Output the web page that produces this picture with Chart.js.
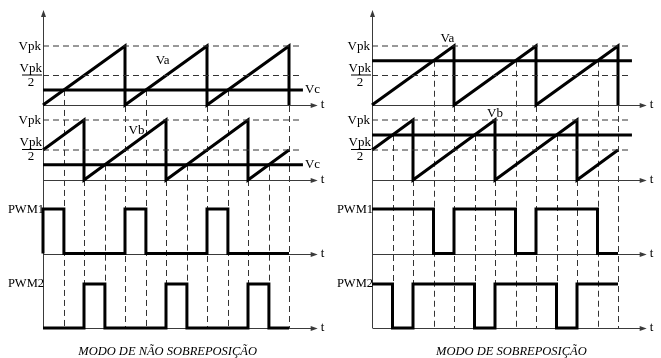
<!DOCTYPE html>
<html>
<head>
<meta charset="utf-8">
<title>PWM intercalado - modos</title>
<script src="https://cdn.jsdelivr.net/npm/chart.js@4.4.1/dist/chart.umd.min.js"></script>
<style>
    html, body { margin: 0; padding: 0; background: #fff; }
    canvas { display: block; }
</style>
</head>
<body>
<canvas id="pwmChart" width="661" height="358"></canvas>
<script>
/* ============================================
   PWM CARRIERS — overlap / non-overlap modes
   time in carrier periods, levels in Vpk units
   ============================================ */

// carriers (same on both sides)
const vaTimes  = [0, 1, 1, 2, 2, 3, 3];
const vaLevels = [0, 1, 0, 1, 0, 1, 0];
const vbTimes  = [0, 0.5, 0.5, 1.5, 1.5, 2.5, 2.5, 3];
const vbLevels = [0.5, 1, 0, 1, 0, 1, 0, 0.5];

// control voltage
const vcLeft  = 0.255;
const vcRight = 0.75;

// reference levels (Vpk, Vpk/2)
const refLevels = [1, 0.5];

// PWM outputs - left (non overlap)
const pwm1LeftTimes  = [0, 0, 0.255, 0.255, 1, 1, 1.255, 1.255, 2, 2, 2.255, 2.255, 3];
const pwm1LeftLevels = [0, 1, 1, 0, 0, 1, 1, 0, 0, 1, 1, 0, 0];
const pwm2LeftTimes  = [0, 0.5, 0.5, 0.755, 0.755, 1.5, 1.5, 1.755, 1.755, 2.5, 2.5, 2.755, 2.755, 3];
const pwm2LeftLevels = [0, 0, 1, 1, 0, 0, 1, 1, 0, 0, 1, 1, 0, 0];

// PWM outputs - right (overlap)
const pwm1RightTimes  = [0, 0.75, 0.75, 1, 1, 1.75, 1.75, 2, 2, 2.75, 2.75, 3];
const pwm1RightLevels = [1, 1, 0, 0, 1, 1, 0, 0, 1, 1, 0, 0];
const pwm2RightTimes  = [0, 0.25, 0.25, 0.5, 0.5, 1.25, 1.25, 1.5, 1.5, 2.25, 2.25, 2.5, 2.5, 3];
const pwm2RightLevels = [1, 1, 0, 0, 1, 1, 0, 0, 1, 1, 0, 0, 1, 1];

// dashed drop lines: time, carrier it starts on, level it starts at
const guideLeftTimes   = [0.255, 0.5, 0.755, 1, 1.255, 1.5, 1.755, 2, 2.255, 2.5, 2.755, 3];
const guideLeftAxes    = ['va', 'vb', 'vb', 'va', 'va', 'vb', 'vb', 'va', 'va', 'vb', 'vb', 'va'];
const guideLeftLevels  = [vcLeft, 1, vcLeft, 1, vcLeft, 1, vcLeft, 1, vcLeft, 1, vcLeft, 1];
const guideRightTimes  = [0.25, 0.5, 0.75, 1, 1.25, 1.5, 1.75, 2, 2.25, 2.5, 2.75, 3];
const guideRightAxes   = ['vb', 'vb', 'va', 'va', 'vb', 'vb', 'va', 'va', 'vb', 'vb', 'va', 'va'];
const guideRightLevels = [vcRight, 1, vcRight, 1, vcRight, 1, vcRight, 1, vcRight, 1, vcRight, 1];

const REF_END = 3.17;   // dashed refs and Vc stop here
const AXIS_END = 3.35;  // t arrow tips
const Y_TOP = 1.61;     // y arrow tip (va units)

const W = 661, H = 358;
const INK = '#000';
const AXIS_INK = '#3a3a3a';
const SERIF = '"Liberation Serif", "Times New Roman", serif';

// a y scale where level 0 sits at basePx and level 1 at topPx
function levelScale(basePx, topPx) {
    const u = basePx - topPx;
    return { type: 'linear', display: false, min: -(H - basePx) / u, max: basePx / u };
}
function timeScale(originPx, unitPx) {
    return { type: 'linear', display: false, min: -originPx / unitPx, max: (W - originPx) / unitPx };
}

function trace(xID, yID, times, levels, extra) {
    return Object.assign({
        data: times.map((t, i) => ({ x: t, y: levels[i] })),
        xAxisID: xID,
        yAxisID: yID,
        showLine: true,
        pointRadius: 0,
        borderColor: INK,
        borderWidth: 3,
        borderJoinStyle: 'miter',
        borderCapStyle: 'butt',
        tension: 0,
        fill: false,
        clip: false
    }, extra || {});
}

function buildDatasets(xID, vc, pwm1T, pwm1V, pwm2T, pwm2V) {
    const sets = [];
    // dashed Vpk and Vpk/2
    ['va', 'vb'].forEach(y => {
        refLevels.forEach(lv => {
            sets.push(trace(xID, y, [0, REF_END], [lv, lv], {
                borderWidth: 1, borderColor: '#333', borderDash: [6, 4]
            }));
        });
    });
    // Vc
    sets.push(trace(xID, 'va', [0, REF_END], [vc, vc]));
    sets.push(trace(xID, 'vb', [0, REF_END], [vc, vc]));
    // carriers
    sets.push(trace(xID, 'va', vaTimes, vaLevels));
    sets.push(trace(xID, 'vb', vbTimes, vbLevels));
    // pwm
    sets.push(trace(xID, 'p1', pwm1T, pwm1V));
    sets.push(trace(xID, 'p2', pwm2T, pwm2V));
    return sets;
}

const datasets = [].concat(
    buildDatasets('xL', vcLeft, pwm1LeftTimes, pwm1LeftLevels, pwm2LeftTimes, pwm2LeftLevels),
    buildDatasets('xR', vcRight, pwm1RightTimes, pwm1RightLevels, pwm2RightTimes, pwm2RightLevels)
);

const sides = [
    {
        x: 'xL', gT: guideLeftTimes, gA: guideLeftAxes, gL: guideLeftLevels, vcLabel: true,
        caption: 'MODO DE NÃO SOBREPOSIÇÃO', capT: 1.52,
        va: [1.46, 0.75], vb: [1.14, 0.83]
    },
    {
        x: 'xR', gT: guideRightTimes, gA: guideRightAxes, gL: guideRightLevels, vcLabel: false,
        caption: 'MODO DE SOBREPOSIÇÃO', capT: 1.7,
        va: [0.92, 1.13], vb: [1.5, 1.1]
    }
];

function arrowHead(ctx, x, y, dir) {
    ctx.beginPath();
    if (dir === 'up') {
        ctx.moveTo(x, y); ctx.lineTo(x - 2.5, y + 7); ctx.lineTo(x + 2.5, y + 7);
    } else {
        ctx.moveTo(x, y); ctx.lineTo(x - 7, y - 2.5); ctx.lineTo(x - 7, y + 2.5);
    }
    ctx.closePath();
    ctx.fill();
}

const drawingPlugin = {
    id: 'drawing',
    beforeDatasetsDraw(chart) {
        const ctx = chart.ctx;
        const s = chart.scales;
        ctx.save();
        sides.forEach(side => {
            const xs = s[side.x];
            // vertical dashed drop lines
            ctx.strokeStyle = '#333';
            ctx.lineWidth = 1;
            ctx.setLineDash([6, 4]);
            const yBottom = s.p2.getPixelForValue(0);
            side.gT.forEach((t, i) => {
                const x = Math.round(xs.getPixelForValue(t)) + 0.5;
                ctx.beginPath();
                ctx.moveTo(x, s[side.gA[i]].getPixelForValue(side.gL[i]));
                ctx.lineTo(x, yBottom);
                ctx.stroke();
            });
            ctx.setLineDash([]);

            // axes
            ctx.strokeStyle = AXIS_INK;
            ctx.fillStyle = AXIS_INK;
            const x0 = Math.round(xs.getPixelForValue(0)) + 0.5;
            const yTop = s.va.getPixelForValue(Y_TOP);
            ctx.beginPath();
            ctx.moveTo(x0, yBottom);
            ctx.lineTo(x0, yTop + 4);
            ctx.stroke();
            arrowHead(ctx, x0, yTop, 'up');

            const xEnd = xs.getPixelForValue(AXIS_END);
            ['va', 'vb', 'p1', 'p2'].forEach(id => {
                const y = Math.round(s[id].getPixelForValue(0)) + 0.5;
                ctx.beginPath();
                ctx.moveTo(x0, y);
                ctx.lineTo(xEnd - 4, y);
                ctx.stroke();
                arrowHead(ctx, xEnd, y, 'right');
            });
        });
        ctx.restore();
    },
    afterDatasetsDraw(chart) {
        const ctx = chart.ctx;
        const s = chart.scales;
        ctx.save();
        ctx.fillStyle = INK;
        ctx.textBaseline = 'middle';
        sides.forEach(side => {
            const xs = s[side.x];
            const x0 = xs.getPixelForValue(0);
            ctx.font = '13px ' + SERIF;

            ['va', 'vb'].forEach(id => {
                // Vpk
                ctx.textAlign = 'right';
                ctx.fillText('Vpk', x0 - 2, s[id].getPixelForValue(1) + 1);
                // Vpk / 2
                const yh = s[id].getPixelForValue(0.5);
                ctx.fillText('Vpk', x0 - 1, yh - 7);
                ctx.fillRect(x0 - 21, yh - 1, 20, 1);
                ctx.textAlign = 'center';
                ctx.fillText('2', x0 - 12, yh + 7);
            });

            // t labels
            ctx.textAlign = 'left';
            const xt = xs.getPixelForValue(AXIS_END) + 3;
            ['va', 'vb', 'p1', 'p2'].forEach(id => {
                ctx.fillText('t', xt, s[id].getPixelForValue(0));
            });

            // Vc labels
            if (side.vcLabel) {
                const xv = xs.getPixelForValue(REF_END) + 2;
                ctx.fillText('Vc', xv, s.va.getPixelForValue(vcLeft));
                ctx.fillText('Vc', xv, s.vb.getPixelForValue(vcLeft));
            }

            // carrier names
            ctx.textAlign = 'center';
            ctx.fillText('Va', xs.getPixelForValue(side.va[0]), s.va.getPixelForValue(side.va[1]));
            ctx.fillText('Vb', xs.getPixelForValue(side.vb[0]), s.vb.getPixelForValue(side.vb[1]));

            // PWM names
            ctx.font = '12.5px ' + SERIF;
            ctx.textAlign = 'right';
            ctx.fillText('PWM1', x0 + 1, s.p1.getPixelForValue(1) + 1);
            ctx.fillText('PWM2', x0 + 1, s.p2.getPixelForValue(1));

            // caption
            ctx.font = 'italic 12.5px ' + SERIF;
            ctx.textAlign = 'center';
            ctx.fillText(side.caption, xs.getPixelForValue(side.capT), H - 6);
        });
        ctx.restore();
    }
};

new Chart(document.getElementById('pwmChart'), {
    type: 'scatter',
    data: { datasets: datasets },
    options: {
        responsive: false,
        animation: false,
        events: [],
        layout: { padding: 0 },
        plugins: {
            legend: { display: false },
            tooltip: { enabled: false }
        },
        scales: {
            xL: timeScale(43, 82),
            xR: timeScale(372, 82),
            va: levelScale(105, 46),
            vb: levelScale(180, 120),
            p1: levelScale(253.5, 209),
            p2: levelScale(328, 284)
        }
    },
    plugins: [drawingPlugin]
});
</script>
</body>
</html>
